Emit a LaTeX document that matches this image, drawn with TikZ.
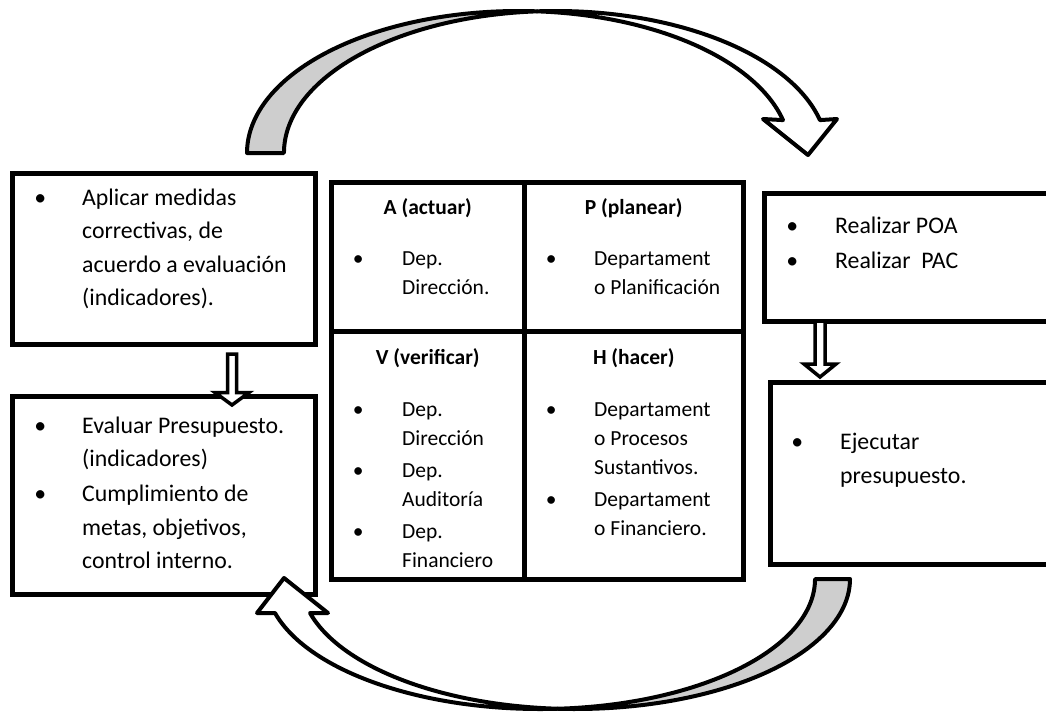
\documentclass[tikz,border=0pt]{standalone}
\usepackage{fontspec}
\setmainfont{Carlito}
\usetikzlibrary{calc}

\newcommand{\bigfont}{\fontsize{23.8pt}{33.5pt}\selectfont}
\newcommand{\cellfont}{\fontsize{21.5pt}{29pt}\selectfont}
\newcommand{\bul}[1][43pt]{\makebox[#1][l]{\makebox[0pt]{\textbullet}}}
\definecolor{backgrey}{RGB}{206,206,206}

\begin{document}
\begin{tikzpicture}[x=1pt, y=-1pt,
    box/.style  = {draw, line width=5pt, inner sep=0pt, outer sep=0pt},
    cell/.style = {draw, line width=5pt, inner sep=0pt, outer sep=0pt},
    head/.style = {anchor=base, inner sep=0pt, font=\cellfont\bfseries},
    txt/.style  = {anchor=base west, inner sep=0pt},
    blk/.style  = {draw, fill=white, line width=3.5pt, line join=miter},
    crv/.style  = {draw, line width=4pt, line join=round},
  ]
    \useasboundingbox (0,0) rectangle (1046,715);
    \clip (0,0) rectangle (1046,715);

    % Left boxes
    \node[box, minimum width=303.5pt, minimum height=171pt] (corr) at (163.75,258.5) {};
    \node[box, minimum width=303.5pt, minimum height=198pt] (eval) at (163.75,495) {};
    % PDCA table
    \node[cell, minimum width=193.5pt, minimum height=149.5pt, anchor=north west] (actuar) at (331,182) {};
    \node[cell, minimum width=218.5pt, minimum height=149.5pt, anchor=north west] (planear) at (actuar.north east) {};
    \node[cell, minimum width=193.5pt, minimum height=247.5pt, anchor=north west] (verificar) at (actuar.south west) {};
    \node[cell, minimum width=218.5pt, minimum height=247.5pt, anchor=north west] (hacer) at (actuar.south east) {};
    % Right boxes
    \node[box, minimum width=295.5pt, minimum height=128pt, anchor=north west] (plan) at (764.5,193) {};
    \node[box, minimum width=289.5pt, minimum height=182.5pt, anchor=north west] (exec) at (770.5,382) {};

    % Box texts
    \node[txt, font=\bigfont] (corrtxt) at ($(corr.north west)+(28,32)$) {%
      \begin{tabular}[t]{@{}l@{}l@{}}
        \bul[42pt] & Aplicar medidas\\
                   & correctivas, de\\
                   & acuerdo a evaluación\\
                   & (indicadores).
      \end{tabular}};
    \node[txt, font=\bigfont] (evaltxt) at ($(eval.north west)+(28,37)$) {%
      \begin{tabular}[t]{@{}l@{}l@{}}
        \bul[42pt] & Evaluar Presupuesto.\\
                   & (indicadores)\\[1.5pt]
        \bul[42pt] & Cumplimiento de\\
                   & metas, objetivos,\\
                   & control interno.
      \end{tabular}};
    \node[txt, font=\bigfont] (plantxt) at ($(plan.north west)+(27.5,40)$) {%
      \begin{tabular}[t]{@{}l@{}l@{}}
        \bul & Realizar POA\\[1.5pt]
        \bul & Realizar\ \ PAC
      \end{tabular}};
    \node[txt, font=\bigfont] (exectxt) at ($(exec.north west)+(26.5,67)$) {%
      \begin{tabular}[t]{@{}l@{}l@{}}
        \bul & Ejecutar\\[0.5pt]
             & presupuesto.
      \end{tabular}};

    % Table texts
    \node[head] (actuarhd) at ($(actuar.north)+(0,32)$) {A (actuar)};
    \node[head] (planearhd) at ($(planear.north)+(0,32)$) {P (planear)};
    \node[head] (verificarhd) at ($(verificar.north)+(0,32.5)$) {V (verificar)};
    \node[head] (hacerhd) at ($(hacer.north)+(0,32.5)$) {H (hacer)};
    \node[txt, font=\cellfont] (actuartxt) at ($(actuar.north west)+(27,83)$) {%
      \begin{tabular}[t]{@{}l@{}l@{}}
        \bul[44pt] & Dep.\\
                   & Dirección.
      \end{tabular}};
    \node[txt, font=\cellfont] (planeartxt) at ($(planear.north west)+(26.5,83)$) {%
      \begin{tabular}[t]{@{}l@{}l@{}}
        \bul & Departament\\
             & o Planificación
      \end{tabular}};
    \node[txt, font=\cellfont] (verificartxt) at ($(verificar.north west)+(27,84.5)$) {%
      \begin{tabular}[t]{@{}l@{}l@{}}
        \bul[44pt] & Dep.\\
                   & Dirección\\[3pt]
        \bul[44pt] & Dep.\\
                   & Auditoría\\[3pt]
        \bul[44pt] & Dep.\\
                   & Financiero
      \end{tabular}};
    \node[txt, font=\cellfont] (hacertxt) at ($(hacer.north west)+(26.5,84.5)$) {%
      \begin{tabular}[t]{@{}l@{}l@{}}
        \bul & Departament\\
             & o Procesos\\
             & Sustantivos.\\[3pt]
        \bul & Departament\\
             & o Financiero.
      \end{tabular}};

    % Down arrows between boxes
    \coordinate (c1) at ($(corr.south)+(68.25,0)$);
    \draw[blk] (c1) ++(-4.5,10) -- ++(9,0) -- ++(0,38.5) -- ++(12.5,0) -- ++(-17,12.5)
        -- ++(-17,-12.5) -- ++(12.5,0) -- cycle;
    \coordinate (c2) at ($(plan.south west)+(55.5,0)$);
    \draw[blk] (c2) ++(-5,0) -- ++(10,0) -- ++(0,43) -- ++(11,0) -- ++(-16,13)
        -- ++(-16,-13) -- ++(11,0) -- cycle;

    % Upper curved arrow
    \filldraw[crv, fill=backgrey] (247,153)
        arc[start angle=180, end angle=86.1, x radius=271.7pt, y radius=142pt] coordinate (topx)
        arc[start angle=93.9, end angle=180, x radius=271.7pt, y radius=142pt] -- cycle;
    \filldraw[crv, fill=white] (topx)
        arc[start angle=93.9, end angle=13.4, x radius=271.7pt, y radius=142pt]
        -- (837,119) -- (808,155) -- (763,119) -- (783,120.1)
        arc[start angle=13.4, end angle=86.1, x radius=271.7pt, y radius=142pt] -- cycle;

    % Lower curved arrow
    \filldraw[crv, fill=backgrey] (850,579)
        arc[start angle=0, end angle=-93.65, x radius=274.8pt, y radius=130pt] coordinate (botx)
        arc[start angle=-86.35, end angle=0, x radius=274.8pt, y radius=130pt] -- cycle;
    \filldraw[crv, fill=white] (botx)
        arc[start angle=-86.35, end angle=-164.84, x radius=274.8pt, y radius=130pt]
        -- (257,613) -- (284,578) -- (328,613) -- (310,613)
        arc[start angle=-164.84, end angle=-93.65, x radius=274.8pt, y radius=130pt] -- cycle;
\end{tikzpicture}
\end{document}
